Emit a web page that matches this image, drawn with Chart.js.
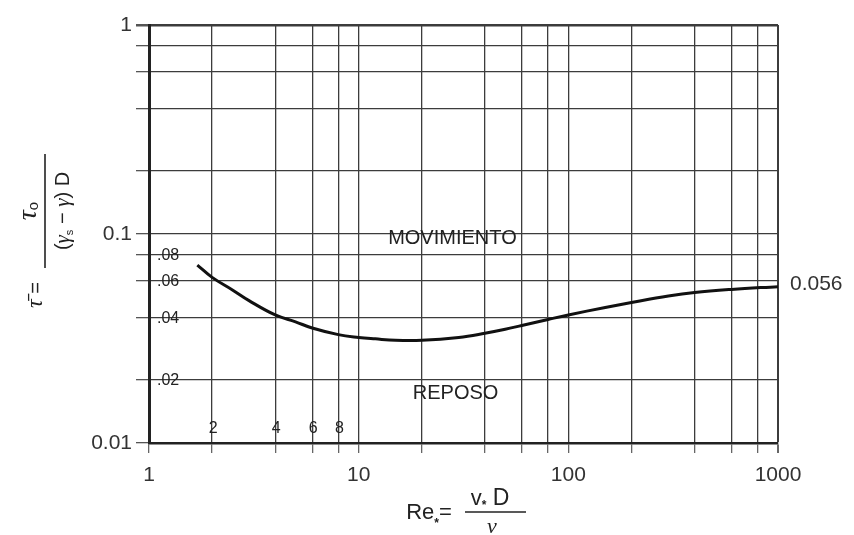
<!DOCTYPE html>
<html>
<head>
<meta charset="utf-8">
<script src="https://cdn.jsdelivr.net/npm/chart.js@4"></script>
<style>
  html, body { margin: 0; padding: 0; background: #fff; }
  canvas { display: block; }
</style>
</head>
<body>
<canvas id="shields" width="854" height="535"></canvas>
<script>
// Shields critical shear stress curve (log-log)
const reStar = [1.7, 2, 2.5, 3, 4, 5, 6, 8, 10, 12, 15, 20, 30, 40, 50, 60, 80, 100, 150, 200, 300, 400, 600, 1000];
const tauCrit = [0.071, 0.062, 0.054, 0.048, 0.041, 0.038, 0.0355, 0.033, 0.032, 0.0315, 0.031, 0.031, 0.032, 0.0335, 0.035, 0.0365, 0.039, 0.041, 0.0445, 0.047, 0.0505, 0.0525, 0.0543, 0.056];

// grid values and tick labels
const xGrid = [1, 2, 4, 6, 8, 10, 20, 40, 60, 80, 100, 200, 400, 600, 800, 1000];
const xMajorLabels = [1, 10, 100, 1000];
const xInnerLabels = [2, 4, 6, 8];
const yGrid = [0.01, 0.02, 0.04, 0.06, 0.08, 0.1, 0.2, 0.4, 0.6, 0.8, 1];
const yMajorLabels = [0.01, 0.1, 1];
const yInnerLabels = [0.02, 0.04, 0.06, 0.08];

// region labels, placed in data coordinates
const regionNames = ['MOVIMIENTO', 'REPOSO'];
const regionAt = [[28, 0.095], [29, 0.0173]];

const INK = '#222';
const GRID = '#3c3c3c';
const FONT = '"Liberation Sans", Arial, sans-serif';
const SERIF = '"Liberation Serif", "DejaVu Serif", serif';

// draws a sequence of text runs (with optional vertical shift) centred on cx
function drawRuns(ctx, runs, cx, baseY) {
  let total = 0;
  runs.forEach(r => { ctx.font = r.font; total += ctx.measureText(r.text).width; });
  let x = cx - total / 2;
  ctx.textAlign = 'left';
  ctx.textBaseline = 'alphabetic';
  runs.forEach(r => {
    ctx.font = r.font;
    ctx.fillText(r.text, x, baseY + (r.dy || 0));
    x += ctx.measureText(r.text).width;
  });
}

const annotations = {
  id: 'annotations',
  afterDraw(chart) {
    const ctx = chart.ctx;
    const xs = chart.scales.x, ys = chart.scales.y;
    ctx.save();
    ctx.fillStyle = INK;
    ctx.strokeStyle = INK;

    // inner minor labels on the y axis
    ctx.font = '16px ' + FONT;
    ctx.textAlign = 'left';
    ctx.textBaseline = 'middle';
    yInnerLabels.forEach(v => {
      ctx.fillText(v.toFixed(2).slice(1), xs.left + 8, ys.getPixelForValue(v) + 1);
    });

    // inner minor labels on the x axis
    ctx.font = '16px ' + FONT;
    ctx.textAlign = 'center';
    xInnerLabels.forEach(v => {
      ctx.fillText(String(v), xs.getPixelForValue(v) + 1, ys.bottom - 14);
    });

    // region names
    ctx.font = '20px ' + FONT;
    regionNames.forEach((name, i) => {
      ctx.fillText(name, xs.getPixelForValue(regionAt[i][0]), ys.getPixelForValue(regionAt[i][1]));
    });

    // value of the curve at its right end
    const lastX = reStar[reStar.length - 1], lastY = tauCrit[tauCrit.length - 1];
    ctx.font = '21px ' + FONT;
    ctx.fillStyle = '#333';
    ctx.textAlign = 'left';
    ctx.fillText(String(lastY), xs.getPixelForValue(lastX) + 12, ys.getPixelForValue(lastY) - 2);
    ctx.fillStyle = INK;

    // x axis title: Re* = v* D / ν
    const big = '22px ' + FONT;
    const sub = 'bold 12px ' + FONT;
    drawRuns(ctx, [{ text: 'Re', font: big }, { text: '*', font: sub, dy: 8 }, { text: '=', font: big }], 429, 519);
    ctx.lineWidth = 1.6;
    ctx.beginPath(); ctx.moveTo(465, 512); ctx.lineTo(526, 512); ctx.stroke();
    drawRuns(ctx, [{ text: 'v', font: big }, { text: '*', font: sub, dy: 4 }, { text: ' D', font: '23px ' + FONT }], 490, 505);
    drawRuns(ctx, [{ text: 'ν', font: 'italic 22px ' + SERIF }], 492, 533);

    // y axis title: τ̄ = τo / ((γs − γ) D), rotated
    ctx.translate(45, 211);
    ctx.rotate(-Math.PI / 2);
    ctx.lineWidth = 1.6;
    ctx.beginPath(); ctx.moveTo(-57, 0); ctx.lineTo(57, 0); ctx.stroke();
    drawRuns(ctx, [{ text: 'τ', font: 'italic 28px ' + SERIF }, { text: 'o', font: '15px ' + FONT, dy: 2 }], 0, -9);
    drawRuns(ctx, [
      { text: '(', font: '20px ' + FONT },
      { text: 'γ', font: 'italic 21px ' + SERIF },
      { text: 's', font: '11px ' + FONT, dy: 4 },
      { text: ' − ', font: '20px ' + FONT },
      { text: 'γ', font: 'italic 21px ' + SERIF },
      { text: ') D', font: '20px ' + FONT }
    ], 0, 24);
    drawRuns(ctx, [{ text: 'τ̄', font: 'italic 24px ' + SERIF }, { text: ' =', font: '20px ' + FONT }], -84, -3);

    ctx.restore();
  }
};

const points = reStar.map((x, i) => ({ x: x, y: tauCrit[i] }));

new Chart(document.getElementById('shields'), {
  type: 'line',
  data: {
    datasets: [{
      data: points,
      borderColor: '#111',
      borderWidth: 3,
      pointRadius: 0,
      fill: false,
      tension: 0.4
    }]
  },
  options: {
    responsive: false,
    animation: false,
    layout: { padding: { top: 25, right: 76, left: 0, bottom: 0 } },
    plugins: { legend: { display: false }, tooltip: { enabled: false } },
    scales: {
      x: {
        type: 'logarithmic',
        min: 1,
        max: 1000,
        afterFit(scale) { scale.height = 92; },
        afterBuildTicks(scale) { scale.ticks = xGrid.map(v => ({ value: v })); },
        border: { display: true, color: INK, width: 2.5 },
        grid: {
          color: GRID,
          tickColor: '#666',
          tickLength: 10,
          lineWidth: c => (c.tick && c.tick.value === 1000 ? 2 : 1.3)
        },
        ticks: {
          autoSkip: false,
          maxRotation: 0,
          padding: 10,
          color: '#333',
          font: { family: FONT, size: 21 },
          callback: v => (xMajorLabels.includes(v) ? String(v) : '')
        }
      },
      y: {
        type: 'logarithmic',
        min: 0.01,
        max: 1,
        afterFit(scale) { scale.width = 149; },
        afterBuildTicks(scale) { scale.ticks = yGrid.map(v => ({ value: v })); },
        border: { display: true, color: INK, width: 3 },
        grid: {
          color: GRID,
          tickColor: '#555',
          tickLength: 13,
          lineWidth: c => (c.tick && c.tick.value === 1 ? 2.5 : 1.3)
        },
        ticks: {
          autoSkip: false,
          padding: 4,
          color: '#333',
          font: { family: FONT, size: 21 },
          callback: v => (yMajorLabels.includes(v) ? String(v) : '')
        }
      }
    }
  },
  plugins: [annotations]
});
</script>
</body>
</html>
